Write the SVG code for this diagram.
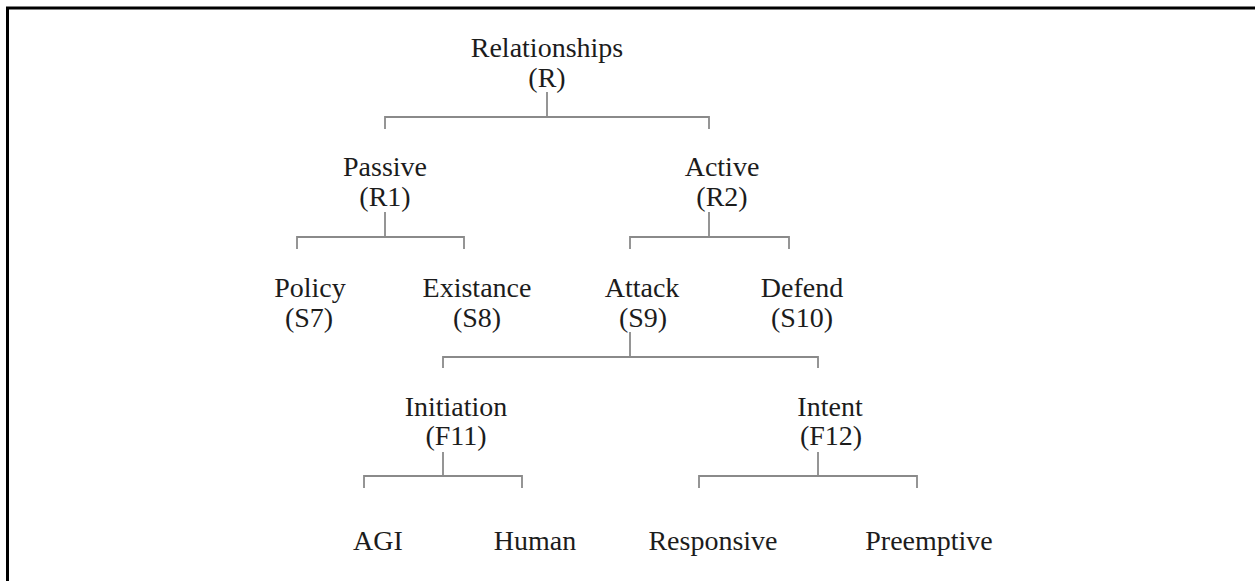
<svg xmlns="http://www.w3.org/2000/svg" width="1255" height="581" viewBox="0 0 1255 581">
<style>
.t{font-family:"Liberation Serif","Times New Roman",serif;font-size:28px;fill:#1c1c1c;text-anchor:middle}
.c{fill:none;stroke:#8a8a8a;stroke-width:1.8}
.frame{fill:none;stroke:#000;stroke-width:3}
</style>
<rect x="0" y="0" width="1255" height="581" fill="#fff"/>
<path class="frame" d="M7.5,581 V8 H1255"/>
<g id="connectors">
<path class="c" d="M547,92 V117 M385,129 V117 H709 V129"/>
<path class="c" d="M385,212 V237 M297,249 V237 H464 V249"/>
<path class="c" d="M709,212 V237 M630,249 V237 H789 V249"/>
<path class="c" d="M630,332 V357 M443,368 V357 H818 V368"/>
<path class="c" d="M443,452 V476 M364,488 V476 H522 V488"/>
<path class="c" d="M818,452 V476 M699,488 V476 H917 V488"/>
</g>
<g id="n-relationships"><text class="t" x="547" y="57">Relationships</text><text class="t" x="547" y="87">(R)</text></g>
<g id="n-passive"><text class="t" x="385" y="176">Passive</text><text class="t" x="385" y="206">(R1)</text></g>
<g id="n-active"><text class="t" x="722" y="176">Active</text><text class="t" x="722" y="206">(R2)</text></g>
<g id="n-policy"><text class="t" x="310" y="297">Policy</text><text class="t" x="309" y="327">(S7)</text></g>
<g id="n-existance"><text class="t" x="477" y="297">Existance</text><text class="t" x="477" y="327">(S8)</text></g>
<g id="n-attack"><text class="t" x="642" y="297">Attack</text><text class="t" x="643" y="327">(S9)</text></g>
<g id="n-defend"><text class="t" x="802" y="297">Defend</text><text class="t" x="802" y="327">(S10)</text></g>
<g id="n-initiation"><text class="t" x="456" y="416">Initiation</text><text class="t" x="456" y="445">(F11)</text></g>
<g id="n-intent"><text class="t" x="830" y="416">Intent</text><text class="t" x="831" y="445">(F12)</text></g>
<g id="n-agi"><text class="t" x="378" y="550">AGI</text></g>
<g id="n-human"><text class="t" x="535" y="550">Human</text></g>
<g id="n-responsive"><text class="t" x="713" y="550">Responsive</text></g>
<g id="n-preemptive"><text class="t" x="929" y="550">Preemptive</text></g>
</svg>
